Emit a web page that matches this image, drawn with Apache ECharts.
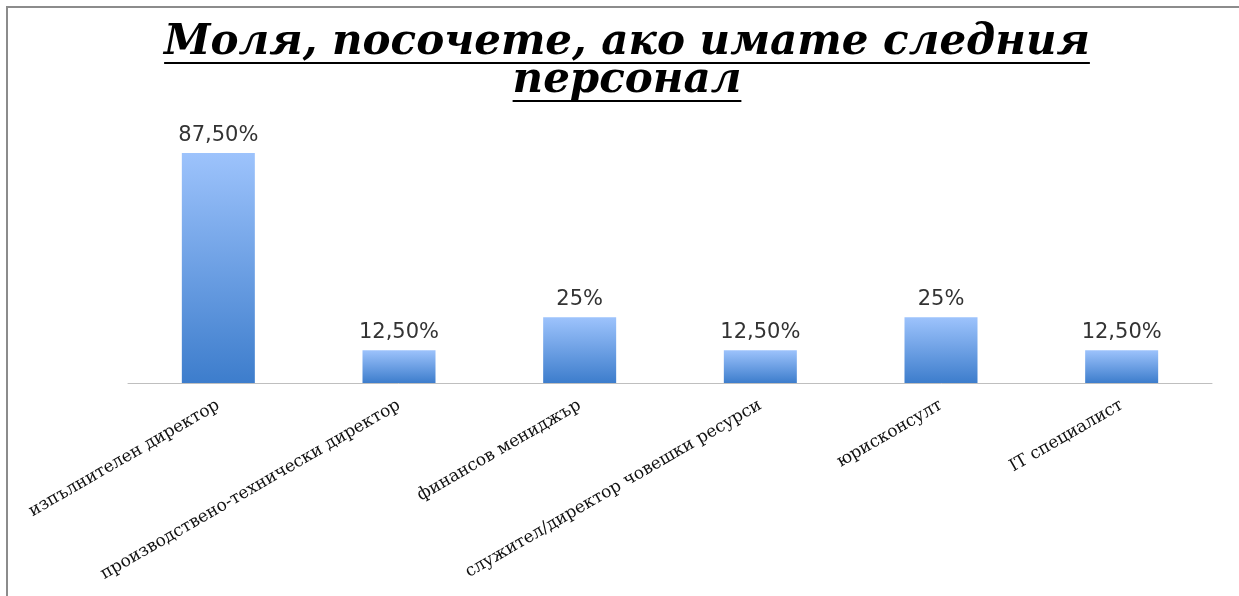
<!DOCTYPE html>
<html>
<head>
<meta charset="utf-8">
<script src="https://cdn.jsdelivr.net/npm/echarts@6/dist/echarts.min.js"></script>
<style>
  html, body { margin: 0; padding: 0; background: #fff; }
  #main { width: 1239px; height: 596px; }
</style>
</head>
<body>
<div id="main"></div>
<script>
const titleLines = ['Моля, посочете, ако имате следния', 'персонал'];
const categories = [
  'изпълнителен директор',
  'производствено-технически директор',
  'финансов мениджър',
  'служител/директор човешки ресурси',
  'юрисконсулт',
  'IT специалист'
];
const values = [87.5, 12.5, 25, 12.5, 25, 12.5];
const valueLabels = ['87,50%', '12,50%', '25%', '12,50%', '25%', '12,50%'];

const titleFont = 'italic bold 42px "DejaVu Serif"';
const titleY = [43, 81];

// measure title lines for the underline
const ctx = document.createElement('canvas').getContext('2d');
ctx.font = titleFont;
const cx = 627;
const graphics = [{
  type: 'rect',
  shape: { x: 7, y: 7, width: 1300, height: 700 },
  style: { fill: 'none', stroke: '#8c8c8c', lineWidth: 2 },
  silent: true
}];
titleLines.forEach(function (t, i) {
  const w = ctx.measureText(t).width;
  graphics.push({
    type: 'text',
    x: cx, y: titleY[i],
    style: {
      text: t,
      font: titleFont,
      fill: '#000',
      align: 'center',
      verticalAlign: 'middle'
    }
  });
  graphics.push({
    type: 'line',
    shape: { x1: cx - w / 2, y1: titleY[i] + 20, x2: cx + w / 2, y2: titleY[i] + 20 },
    style: { stroke: '#000', lineWidth: 2 }
  });
});

const chart = echarts.init(document.getElementById('main'));
chart.setOption({
  animation: false,
  graphic: graphics,
  grid: { left: 128, right: 27, top: 120, bottom: 213, containLabel: false, outerBoundsMode: 'none' },
  xAxis: {
    type: 'category',
    data: categories,
    axisLine: { lineStyle: { color: '#bfbfbf', width: 1 } },
    axisTick: { show: false },
    axisLabel: {
      interval: 0,
      rotate: 30,
      margin: 21,
      fontFamily: 'DejaVu Serif',
      fontSize: 17,
      color: '#111'
    }
  },
  yAxis: {
    type: 'value',
    min: 0,
    max: 100,
    show: false,
    splitLine: { show: false }
  },
  series: [{
    type: 'bar',
    data: values,
    barWidth: 73,
    itemStyle: {
      color: new echarts.graphic.LinearGradient(0, 0, 0, 1, [
        { offset: 0, color: '#9dc3fc' },
        { offset: 1, color: '#3d7dcc' }
      ])
    },
    label: {
      show: true,
      position: 'top',
      distance: 7,
      fontFamily: 'DejaVu Sans',
      fontSize: 21,
      color: '#333',
      formatter: function (p) { return valueLabels[p.dataIndex]; }
    }
  }]
});
</script>
</body>
</html>
